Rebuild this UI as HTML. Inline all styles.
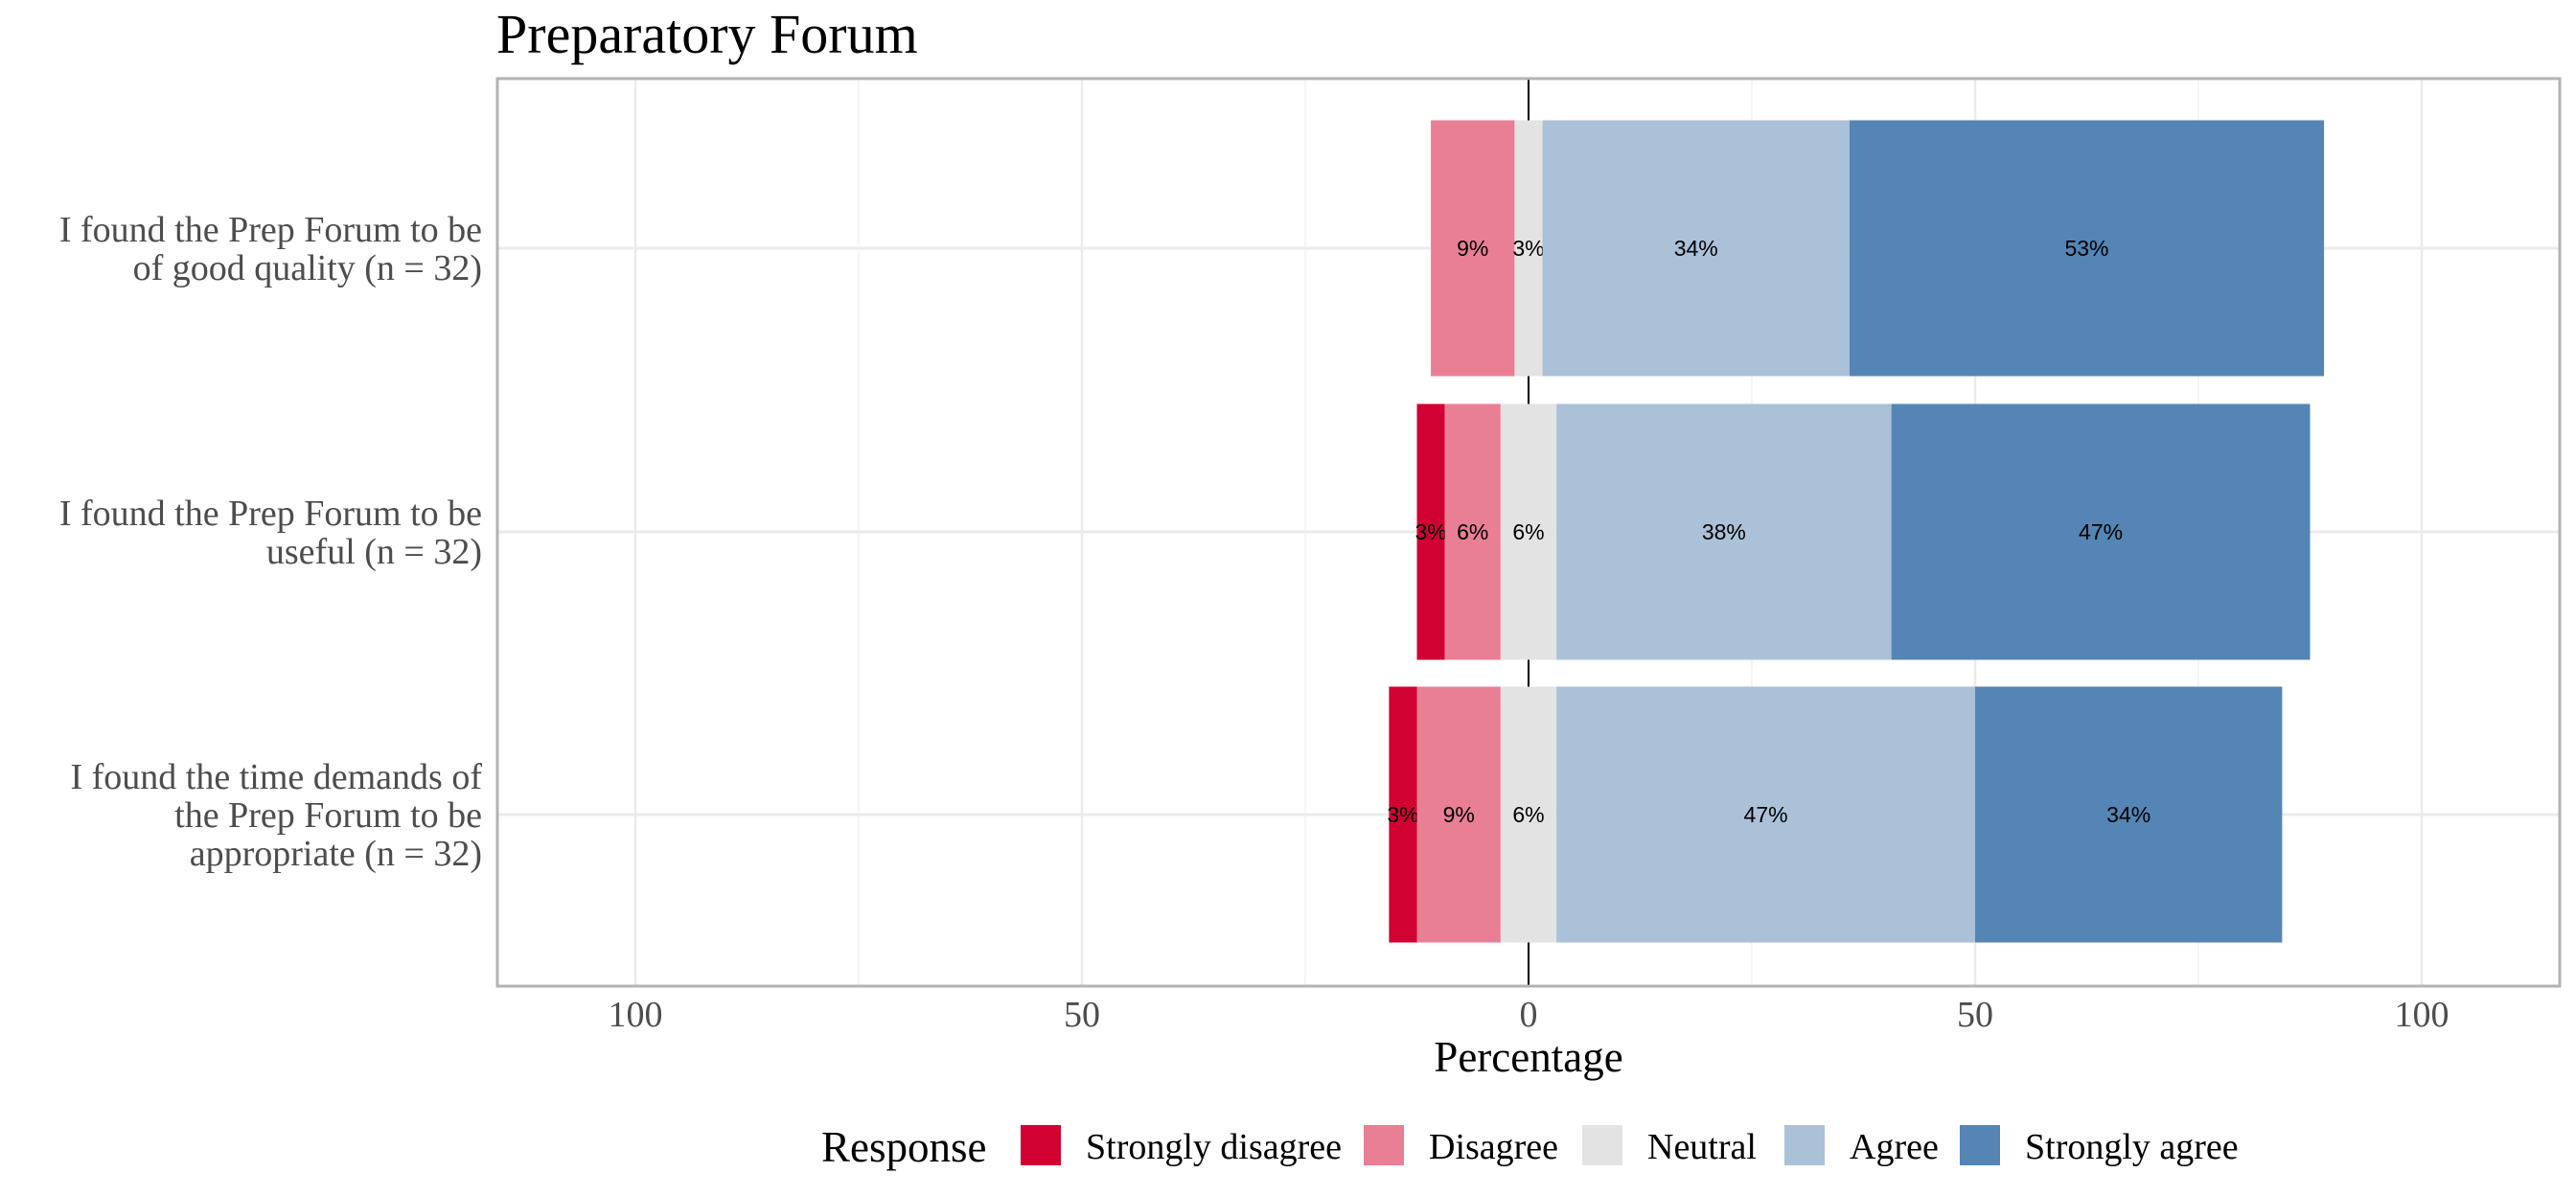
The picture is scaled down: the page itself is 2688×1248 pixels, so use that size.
<!DOCTYPE html>
<html><head><meta charset="utf-8"><style>
html,body{margin:0;padding:0;background:#fff;}
svg{display:block;}
</style></head><body>
<svg id="chart" width="2688" height="1248" viewBox="0 0 2688 1248" xmlns="http://www.w3.org/2000/svg">
<text x="518" y="55" font-family="Liberation Serif, serif" font-size="58" fill="#000">Preparatory Forum</text>
<g id="grid"></g>
<g id="bars"></g>
<rect x="519" y="82" width="2152" height="947" fill="none" stroke="#b3b3b3" stroke-width="3"/>
<g id="ylabels"></g>
<g id="xticks"></g>
<text x="1595" y="1118" text-anchor="middle" font-family="Liberation Serif, serif" font-size="45" fill="#000">Percentage</text>
<g id="legend"></g>
</svg>
<script>
const categories = [
  ["I found the Prep Forum to be","of good quality (n = 32)"],
  ["I found the Prep Forum to be","useful (n = 32)"],
  ["I found the time demands of","the Prep Forum to be","appropriate (n = 32)"]
];
const responses = ["Strongly disagree","Disagree","Neutral","Agree","Strongly agree"];
const colors = ["#d10232","#e97f94","#e3e3e3","#abc1d8","#5485b4"];
const stronglyDisagree = [0, 3.125, 3.125];
const disagree = [9.375, 6.25, 9.375];
const neutral = [3.125, 6.25, 6.25];
const agree = [34.375, 37.5, 46.875];
const stronglyAgree = [53.125, 46.875, 34.375];
const tickValues = [-100,-50,0,50,100];
const tickLabels = ["100","50","0","50","100"];
const minorTicks = [-75,-25,25,75];

const NS = "http://www.w3.org/2000/svg";
const X0 = 1595, PX = 9.32;
const xs = v => X0 + v*PX;
const rowY = [259, 555, 850];
const ys = i => rowY[i];
const BH = 267;
const PL = 519, PR = 2671, PT = 82, PB = 1029;
function mk(tag, attrs, parent){const e=document.createElementNS(NS,tag);for(const k in attrs)e.setAttribute(k,attrs[k]);parent.appendChild(e);return e;}

const grid = document.getElementById('grid');
minorTicks.forEach(v=>{
  const l=mk('line',{x1:xs(v),x2:xs(v),y1:PT,y2:PB,stroke:'#f2f2f2','stroke-width':1.5},grid);
  
  
});
tickValues.forEach(v=>{
  const l=mk('line',{x1:xs(v),x2:xs(v),y1:PT,y2:PB,stroke:'#ebebeb','stroke-width':2.5},grid);
  
  
});
categories.forEach((c,i)=>{
  const l=mk('line',{x1:PL,x2:PR,y1:ys(i),y2:ys(i),stroke:'#ebebeb','stroke-width':3},grid);
  
  
});
const zl=mk('line',{x1:X0,x2:X0,y1:PT,y2:PB,stroke:'#000','stroke-width':2},grid);



const bars = document.getElementById('bars');
const series = [stronglyDisagree, disagree, neutral, agree, stronglyAgree];
categories.forEach((c,i)=>{
  let left = -(series[0][i]+series[1][i]+series[2][i]/2);
  series.forEach((s,k)=>{
    const v=s[i];
    if(v>0){
      const r=mk('rect',{x:xs(left),y:ys(i)-BH/2,width:v*PX,height:BH,fill:colors[k]},bars);
      
      
      const t=mk('text',{x:xs(left+v/2),y:ys(i)+8,'text-anchor':'middle','font-family':'Liberation Sans, sans-serif','font-size':23,fill:'#000'},bars);
      t.textContent=Math.round(v)+'%';
      
      
    }
    left+=v;
  });
});

const yl=document.getElementById('ylabels');
categories.forEach((lines,i)=>{
  const n=lines.length;
  lines.forEach((s,j)=>{
    const t=mk('text',{x:503,y:ys(i)+(j-(n-1)/2)*40+13,'text-anchor':'end','font-family':'Liberation Serif, serif','font-size':38,fill:'#4d4d4d'},yl);
    t.textContent=s;
    
    
  });
});

const xt=document.getElementById('xticks');
tickValues.forEach((v,i)=>{
  const t=mk('text',{x:xs(v),y:1071,'text-anchor':'middle','font-family':'Liberation Serif, serif','font-size':38,fill:'#4d4d4d'},xt);
  t.textContent=tickLabels[i];
  
  
});

const lg=document.getElementById('legend');
const lt=mk('text',{x:857,y:1212,'font-family':'Liberation Serif, serif','font-size':45,fill:'#000'},lg);
lt.textContent='Response';


const keyX=[1065,1423,1651,1862,2045];
responses.forEach((r,k)=>{
  const rc=mk('rect',{x:keyX[k],y:1174,width:42,height:42,fill:colors[k]},lg);
  
  
  const t=mk('text',{x:keyX[k]+68,y:1209,'font-family':'Liberation Serif, serif','font-size':38,fill:'#000'},lg);
  t.textContent=r;
  
  
});
</script>
</body></html>
